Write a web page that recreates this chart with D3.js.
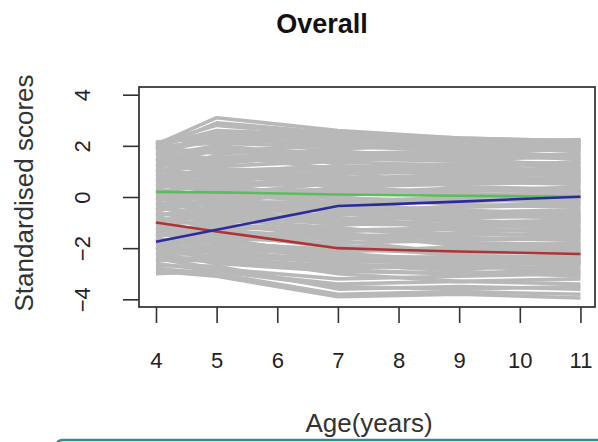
<!DOCTYPE html>
<html><head><meta charset="utf-8">
<script src="https://cdn.jsdelivr.net/npm/d3@7"></script>
<style>
html,body{margin:0;padding:0;background:#fff;}
svg{display:block;font-family:"Liberation Sans",Arial,Helvetica,sans-serif;}
</style></head>
<body><svg id="c" width="598" height="442"></svg>
<script>
// ---- data ----
const xTicks = [4,5,6,7,8,9,10,11];
const yTicks = [-4,-2,0,2,4];
const grayAges = [4,5,7,9,11];
const grayLines = [
 [2.1,2.4,2.2,2.2,2.2],[2.0,2.6,2.4,2.2,2.1],[2.05,3.1,2.6,2.3,2.2],[1.9,2.9,2.5,2.3,2.2],
 [2.1,2.8,2.4,2.1,2.0],[1.8,2.2,2.1,1.9,2.1],[1.7,1.5,1.9,2.0,1.8],[1.6,2.0,1.6,1.7,1.9],
 [1.5,1.2,1.4,1.6,1.5],[1.4,1.8,2.0,1.8,1.6],[1.3,1.0,1.2,1.1,1.4],[1.2,1.6,1.1,1.3,1.2],
 [1.1,0.7,0.9,1.2,1.0],[1.0,1.4,1.5,1.4,1.3],[0.9,0.5,0.6,0.8,0.9],[0.8,1.1,0.8,0.6,0.7],
 [0.7,0.3,0.9,1.0,0.8],[0.6,0.9,0.4,0.5,0.6],[0.5,0.2,0.3,0.2,0.4],[0.4,0.8,0.6,0.7,0.5],
 [0.3,-0.1,0.1,0.3,0.2],[0.2,0.5,-0.1,-0.2,0.0],[0.1,0.0,0.2,0.1,-0.1],[0.0,-0.4,-0.3,-0.1,-0.2],
 [-0.1,0.3,0.0,-0.3,-0.4],[-0.2,-0.6,-0.5,-0.4,-0.3],[-0.3,0.1,-0.2,-0.6,-0.5],[-0.4,-0.8,-0.7,-0.5,-0.7],
 [-0.5,-0.2,-0.9,-0.8,-0.6],[-0.6,-1.0,-0.6,-1.0,-0.9],[-0.7,-0.5,-1.1,-0.9,-1.1],[-0.8,-1.2,-1.3,-1.2,-1.0],
 [-0.9,-0.7,-0.8,-1.3,-1.3],[-1.0,-1.4,-1.5,-1.5,-1.4],[-1.1,-0.9,-1.2,-1.6,-1.7],[-1.2,-1.6,-1.8,-1.7,-1.6],
 [-1.3,-1.1,-1.4,-1.9,-1.9],[-1.4,-1.8,-2.1,-2.0,-1.8],[-1.5,-1.3,-1.7,-2.2,-2.1],[-1.6,-2.0,-2.3,-2.4,-2.3],
 [-1.7,-1.5,-1.9,-2.3,-2.5],[-1.8,-2.2,-2.5,-2.6,-2.4],[-1.9,-1.7,-2.2,-2.5,-2.6],[-2.0,-2.4,-2.7,-2.8,-2.7],
 [-2.1,-1.9,-2.4,-2.7,-2.9],[-2.2,-2.6,-2.9,-3.0,-2.8],[-2.3,-2.1,-2.6,-2.9,-3.1],[-2.4,-2.8,-3.2,-3.1,-3.0],
 [-2.5,-2.3,-3.0,-3.3,-3.2],[-2.6,-2.9,-3.4,-3.3,-3.4],[-2.7,-2.7,-3.6,-3.5,-3.6],[-2.8,-3.0,-3.8,-3.7,-3.8],
 [-2.9,-3.1,-3.9,-3.8,-3.95],[-3.0,-2.9,-3.5,-3.6,-3.5],
 [1.95,1.7,1.8,1.5,1.7],[1.45,1.9,1.3,1.9,1.8],[0.95,1.3,1.7,1.6,1.1],[0.45,0.6,1.0,0.4,0.3],
 [-0.05,-0.3,0.4,0.6,0.5],[-0.55,-0.1,-0.4,0.0,0.1],[-1.05,-0.4,-1.0,-0.7,-0.8],[-1.55,-1.0,-1.6,-1.4,-1.2],
 [-2.05,-1.4,-2.0,-2.1,-2.2],[-2.45,-2.5,-2.8,-2.6,-2.6],[2.15,2.3,2.0,2.1,2.25],[1.65,2.5,2.3,2.0,1.95],
 [2.0,2.1,1.95,2.05,2.0],[1.85,2.35,2.2,2.15,2.05],[1.75,1.85,1.7,1.8,2.0],[1.55,1.4,1.55,1.45,1.6],
 [1.35,1.55,1.65,1.7,1.5],[1.25,1.1,1.0,1.0,1.15],[1.15,1.5,1.35,1.25,1.35],[1.05,0.85,1.1,0.9,0.85],
 [0.85,0.95,0.7,0.9,1.05],[0.75,0.45,0.5,0.55,0.65],[0.65,1.0,1.2,1.15,0.95],[0.55,0.35,0.15,0.35,0.25],
 [0.35,0.65,0.45,0.1,0.15],[0.25,0.1,0.55,0.75,0.7],[0.15,-0.2,-0.2,0.0,0.05],[-0.15,0.15,-0.05,-0.15,-0.1],
 [-0.25,-0.5,-0.35,-0.7,-0.6],[-0.35,-0.15,-0.6,-0.35,-0.25],[-0.45,-0.65,-0.85,-0.65,-0.85],[-0.65,-0.85,-1.0,-1.1,-1.2],
 [-0.75,-0.35,-0.5,-0.8,-0.75],[-0.85,-1.1,-1.25,-1.45,-1.5],[-0.95,-0.75,-1.05,-1.1,-1.0],[-1.15,-1.3,-1.6,-1.8,-1.85],
 [-1.25,-1.5,-1.35,-1.25,-1.35],[-1.35,-1.2,-1.9,-2.1,-2.0],[-1.45,-1.65,-1.5,-1.65,-1.55],[-1.65,-1.8,-2.05,-2.2,-2.15],
 [-1.75,-1.95,-2.15,-1.95,-2.0],[-1.85,-1.6,-2.35,-2.35,-2.3],[-1.95,-2.15,-2.45,-2.5,-2.45],[-2.15,-2.3,-2.55,-2.4,-2.5],
 [-2.25,-2.0,-2.65,-2.7,-2.55],[-2.35,-2.45,-2.85,-3.0,-2.95]
];
const meanAges = [4,5,7,8,9,10,11];
const greenSeries = [0.2,0.18,0.1,0.07,0.05,0.03,0.01];
const blueSeries  = [-1.75,-1.28,-0.35,-0.27,-0.18,-0.08,0.01];
const redSeries   = [-1.0,-1.35,-2.0,-2.07,-2.13,-2.18,-2.23];

// ---- layout ----
const svg = d3.select("#c");
const L=139, R=595, T=87, B=307;
const x = d3.scaleLinear().domain([3.72,11.24]).range([L,R]);
const y = d3.scaleLinear().domain([-4.3,4.3]).range([B,T]);

const line = ages => d3.line().x((d,i)=>x(ages[i])).y(d=>y(d));

svg.append("g").selectAll("path").data(grayLines).join("path")
  .attr("d", line(grayAges)).attr("fill","none")
  .attr("stroke","#b8b8b8").attr("stroke-width",3.6).attr("stroke-linejoin","round");

const colored = [
  {v:greenSeries, c:"#5dbb5d"},
  {v:redSeries, c:"#ad3535"},
  {v:blueSeries, c:"#2b2b9a"}
];
svg.append("g").selectAll("path").data(colored).join("path")
  .attr("d", d=>line(meanAges)(d.v)).attr("fill","none")
  .attr("stroke", d=>d.c).attr("stroke-width",2.6).attr("stroke-linejoin","round");

// box
svg.append("rect").attr("x",L).attr("y",T).attr("width",R-L).attr("height",B-T)
  .attr("fill","none").attr("stroke","#222").attr("stroke-width",1.6);

// axes
const xa = svg.append("g").attr("transform",`translate(0,${B})`)
  .call(d3.axisBottom(x).tickValues(xTicks).tickSize(16).tickSizeOuter(0));
xa.select(".domain").remove();
xa.selectAll("line").attr("stroke","#333").attr("stroke-width",1.6);
xa.selectAll("text").attr("font-size",22).attr("fill","#222")
  .attr("font-family","Liberation Sans, Arial, sans-serif")
  .attr("y",61).attr("dy",0);

const ya = svg.append("g").attr("transform",`translate(${L},0)`)
  .call(d3.axisLeft(y).tickValues(yTicks).tickSize(16).tickSizeOuter(0));
ya.select(".domain").remove();
ya.selectAll("line").attr("stroke","#333").attr("stroke-width",1.6);
ya.selectAll("text").attr("font-size",22).attr("fill","#222")
  .attr("font-family","Liberation Sans, Arial, sans-serif")
  .attr("x",null).attr("dy",0).attr("text-anchor","middle")
  .attr("transform","translate(-49,0) rotate(-90)");

// labels
svg.append("text").attr("x",322).attr("y",33).attr("text-anchor","middle")
  .attr("font-size",27).attr("font-weight","bold").attr("fill","#111").text("Overall");
svg.append("text").attr("x",369).attr("y",432).attr("text-anchor","middle")
  .attr("font-size",26).attr("fill","#333").text("Age(years)");
svg.append("text").attr("transform","translate(33,193) rotate(-90)").attr("text-anchor","middle")
  .attr("font-size",26).attr("fill","#333").text("Standardised scores");

// teal frame edge at bottom
svg.append("path").attr("d","M57,450 L57,446 Q57,440 63,440 L600,440")
  .attr("fill","none").attr("stroke","#3b8893").attr("stroke-width",2.5);
</script></body></html>
